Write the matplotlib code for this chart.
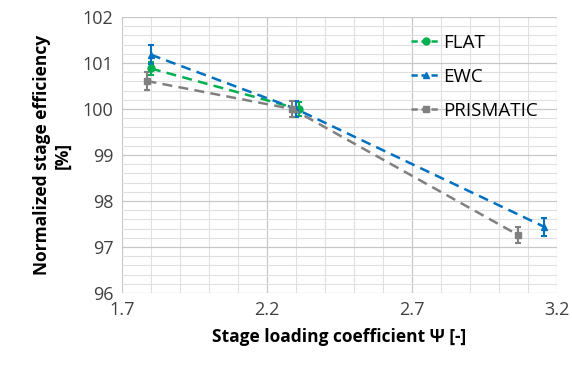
import numpy as np
import matplotlib.pyplot as plt
from matplotlib.lines import Line2D

# data
flat_x = [1.80, 2.31]
flat_y = [100.88, 100.0]
flat_err = [0.15, 0.15]

ewc_x = [1.80, 2.30, 3.155]
ewc_y = [101.18, 100.0, 97.44]
ewc_err = [0.2, 0.18, 0.2]

pris_x = [1.785, 2.287, 3.066]
pris_y = [100.61, 100.0, 97.26]
pris_err = [0.19, 0.18, 0.18]

x_ticks = [1.7, 2.2, 2.7, 3.2]
y_ticks = [96, 97, 98, 99, 100, 101, 102]

plt.rcParams['font.family'] = ['Open Sans', 'DejaVu Sans']

fig = plt.figure(figsize=(5.72, 3.69), dpi=100)
ax = fig.add_axes([0.213, 0.206, 0.761, 0.748])

series = [
    ('FLAT', flat_x, flat_y, flat_err, '#00B050', 'o', 5),
    ('EWC', ewc_x, ewc_y, ewc_err, '#0070C0', '^', 5),
    ('PRISMATIC', pris_x, pris_y, pris_err, '#808080', 's', 5),
]
handles = []
for name, x, y, e, c, m, ms in series:
    ax.errorbar(x, y, yerr=e, color=c, marker=m, markersize=ms, linestyle=(0, (4, 2.5)),
                linewidth=1.8, elinewidth=1.5, capsize=2.5, capthick=1.5, zorder=3)
    handles.append(Line2D([], [], color=c, marker=m, markersize=ms,
                          linestyle=(0, (2.5, 1.5)), linewidth=1.8, label=name))

ax.set_xlim(1.7, 3.2)
ax.set_ylim(96, 102)
ax.set_xticks(x_ticks)
ax.set_xticklabels([f'{v:.1f}' for v in x_ticks])
ax.set_xticks(np.arange(1.7, 3.21, 0.1), minor=True)
ax.set_yticks(y_ticks)
ax.set_yticks(np.arange(96, 102.01, 0.2), minor=True)

ax.grid(which='major', color='#c8c8c8', linewidth=0.9)
ax.grid(which='minor', color='#e0e0e0', linewidth=0.8)
ax.set_axisbelow(True)
for s in ax.spines.values():
    s.set_visible(False)
ax.tick_params(which='both', length=0, labelsize=13, colors='#404040', pad=6)

ax.set_xlabel('Stage loading coefficient Ψ [-]', fontsize=12.5, fontweight='bold', labelpad=6)
ax.set_ylabel('Normalized stage efficiency\n[%]', fontsize=12.5, fontweight='bold', labelpad=8)

ax.legend(handles=handles, loc='upper right', bbox_to_anchor=(0.995, 1.0), frameon=False,
          fontsize=13.5, handlelength=1.5, handletextpad=0.2, labelspacing=0.85)

fig.savefig('out.png', dpi=100)
